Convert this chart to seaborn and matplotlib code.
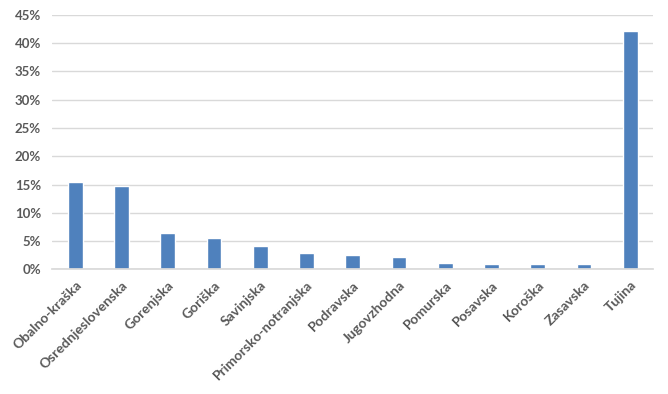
import pandas as pd
import numpy as np
import matplotlib
matplotlib.use("Agg")
import matplotlib.pyplot as plt
import seaborn as sns
from matplotlib.ticker import PercentFormatter

regions = ["Obalno-kraška", "Osrednjeslovenska", "Gorenjska", "Goriška", "Savinjska",
           "Primorsko-notranjska", "Podravska", "Jugovzhodna", "Pomurska", "Posavska",
           "Koroška", "Zasavska", "Tujina"]
shares = [15.5, 14.8, 6.5, 5.6, 4.2, 2.8, 2.6, 2.1, 1.2, 1.0, 1.0, 1.0, 42.1]

df = pd.DataFrame({"region": regions, "share": shares})

sns.set_theme(style="white")
plt.rcParams["font.family"] = ["Lato", "DejaVu Sans"]

fig = plt.figure(figsize=(6.68, 3.94), dpi=100)
ax = fig.add_axes([0.078, 0.3165, 0.9, 0.6455])

sns.barplot(data=df, x="region", y="share", color="#4F81BD", saturation=1,
            width=0.32, ax=ax)

ax.set_ylim(0, 45)
ax.set_xlim(-0.5, len(regions) - 0.5)
ax.set_yticks(np.arange(0, 46, 5))
ax.yaxis.set_major_formatter(PercentFormatter(decimals=0))
ax.grid(axis="y", color="#D9D9D9", linewidth=1)
ax.set_axisbelow(True)
for s in ["top", "right", "left"]:
    ax.spines[s].set_visible(False)
ax.spines["bottom"].set_color("#D9D9D9")

ax.set_xlabel("")
ax.set_ylabel("")
ax.tick_params(axis="both", length=0, colors="#595959")
ax.tick_params(axis="y", labelsize=9.5, pad=8)
ax.tick_params(axis="x", labelsize=10, pad=7)
plt.setp(ax.get_xticklabels(), rotation=45, ha="right", rotation_mode="anchor",
         fontweight="bold")
plt.setp(ax.get_yticklabels(), fontweight="bold")

fig.savefig("out.png", dpi=100)
